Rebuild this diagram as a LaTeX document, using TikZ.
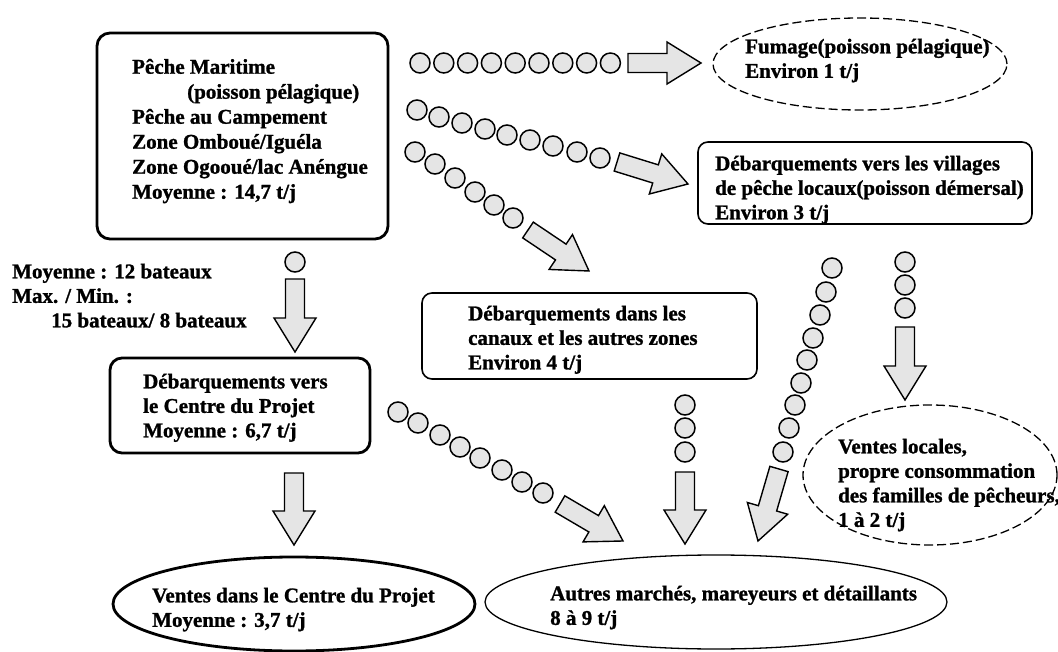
\documentclass[tikz,border=0pt]{standalone}
\usepackage{fontspec}
\setmainfont{Liberation Serif}[BoldFeatures={FakeBold=1.2}]
\usetikzlibrary{calc,shapes.geometric}
\definecolor{afill}{gray}{0.9}
\tikzset{
  thickbox/.style={draw, line width=2.8pt, rounded corners=13pt, inner sep=0pt},
  thinbox/.style={draw, line width=1.6pt, rounded corners=10pt, inner sep=0pt},
  ell/.style={draw, ellipse, inner sep=0pt},
  dashell/.style={ell, line width=1.3pt, dash pattern=on 9pt off 4pt},
  txt/.style={font=\fontsize{21}{24.5}\selectfont\bfseries, align=left, inner sep=0pt, anchor=north west},
  dotc/.style={draw, fill=afill, line width=1.5pt},
  barrow/.style={draw, fill=afill, line width=1.4pt, line join=miter},
}
\newcommand\blockarr[2]{%
  \path let \p1=(#1), \p2=(#2), \n1={atan2(\y2-\y1,\x2-\x1)}, \n2={veclen(\x2-\x1,\y2-\y1)} in
    \pgfextra{\xdef\baang{\n1}\xdef\balen{\n2}};
  \begin{scope}[shift={(#1)}, rotate=\baang]
    \draw[barrow] (0pt,-9.5pt) -- ({\balen-34pt},-9.5pt) -- ({\balen-34pt},-21pt)
      -- ({\balen},0pt) -- ({\balen-34pt},21pt) -- ({\balen-34pt},9.5pt) -- (0pt,9.5pt) -- cycle;
  \end{scope}}
\begin{document}
\begin{tikzpicture}[x=1pt,y=-1pt]
\useasboundingbox (0,0) rectangle (1058,652);

% boxes and ellipses
\node[thickbox, minimum width=291pt, minimum height=206pt] (main) at (242.5,136) {};
\node[thinbox, minimum width=334pt, minimum height=82pt] (vil) at (865,183) {};
\node[thinbox, minimum width=335pt, minimum height=86pt] (can) at (589.5,336) {};
\node[thickbox, rounded corners=12pt, minimum width=260pt, minimum height=95pt] (cen) at (240,405.5) {};
\node[dashell, minimum width=294pt, minimum height=92pt] (fum) at (860,64) {};
\node[dashell, minimum width=254pt, minimum height=140pt] (loc) at (930,475) {};
\node[ell, line width=2.8pt, minimum width=362pt, minimum height=94pt] (vcp) at (294,604) {};
\node[ell, line width=1.3pt, minimum width=462pt, minimum height=94pt] (aut) at (716,602) {};

% texts
\node[txt, font=\fontsize{21}{25}\selectfont\bfseries] (maint) at (132,56) {\strut P\^eche Maritime\\\hspace*{55pt}(poisson p\'elagique)\\P\^eche au Campement\\Zone Ombou\'e/Igu\'ela\\Zone Ogoou\'e/lac An\'engue\\Moyenne : 14,7 t/j};
\node[txt] (fumt) at (745,36) {\strut Fumage(poisson p\'elagique)\\Environ 1 t/j};
\node[txt] (vilt) at (715,153) {\strut D\'ebarquements vers les villages\\de p\^eche locaux(poisson d\'emersal)\\Environ 3 t/j};
\node[txt] (cant) at (468,303) {\strut D\'ebarquements dans les\\canaux et les autres zones\\Environ 4 t/j};
\node[txt] (bat) at (12,261) {\strut Moyenne : 12 bateaux\\Max. / Min. :\\\hspace*{39pt}15 bateaux/ 8 bateaux};
\node[txt] (cent) at (143,371) {\strut D\'ebarquements vers\\le Centre du Projet\\Moyenne : 6,7 t/j};
\node[txt] (loct) at (838,436) {\strut Ventes locales,\\propre consommation\\des familles de p\^echeurs,\\1 \`a 2 t/j};
\node[txt] (vcpt) at (152,585) {\strut Ventes dans le Centre du Projet\\Moyenne : 3,7 t/j};
\node[txt] (autt) at (550,583) {\strut Autres march\'es, mareyeurs et d\'etaillants\\8 \`a 9 t/j};

% dotted chains
\foreach \x/\y in {420/63,443.8/63,467.6/63,491.4/63,515.2/63,539/63,562.8/63,586.6/63,610.4/63}
  \draw[dotc] (\x,\y) circle[radius=10pt];
\foreach \x/\y in {417/110,439/117,462/123,485/129,507/135,530/140,553/146,577/152,600/158}
  \draw[dotc] (\x,\y) circle[radius=10pt];
\foreach \x/\y in {415/152,435/164,455/178,475/192,494/205,513/218}
  \draw[dotc] (\x,\y) circle[radius=10pt];
\draw[dotc] (295,262) circle[radius=10pt];
\foreach \x/\y in {398/412,418/423,440/435,460/447,480/458,502/470,522/482,543/493}
  \draw[dotc] (\x,\y) circle[radius=10pt];
\foreach \x/\y in {685/405,685/428,685/452}
  \draw[dotc] (\x,\y) circle[radius=10pt];
\foreach \x/\y in {905/262,905/285,905/308}
  \draw[dotc] (\x,\y) circle[radius=10pt];
\foreach \x/\y in {832/268,826/292,820/315,813/338,807/360,801/383,795/405,789/428,783/452}
  \draw[dotc] (\x,\y) circle[radius=10pt];

% block arrows
\coordinate (a1s) at (628,63);  \coordinate (a1e) at (701,63);
\coordinate (a2s) at (617,162); \coordinate (a2e) at (688,184);
\coordinate (a3s) at (528,230); \coordinate (a3e) at (589,271);
\coordinate (a4s) at (295,279); \coordinate (a4e) at (295,352);
\coordinate (a5s) at (560,504); \coordinate (a5e) at (623,541);
\coordinate (a6s) at (685,472); \coordinate (a6e) at (685,544);
\coordinate (a7s) at (779,469); \coordinate (a7e) at (758,541);
\coordinate (a8s) at (905,327); \coordinate (a8e) at (905,400);
\coordinate (a9s) at (294,473); \coordinate (a9e) at (294,545);
\blockarr{a1s}{a1e}
\blockarr{a2s}{a2e}
\blockarr{a3s}{a3e}
\blockarr{a4s}{a4e}
\blockarr{a5s}{a5e}
\blockarr{a6s}{a6e}
\blockarr{a7s}{a7e}
\blockarr{a8s}{a8e}
\blockarr{a9s}{a9e}
\end{tikzpicture}
\end{document}
